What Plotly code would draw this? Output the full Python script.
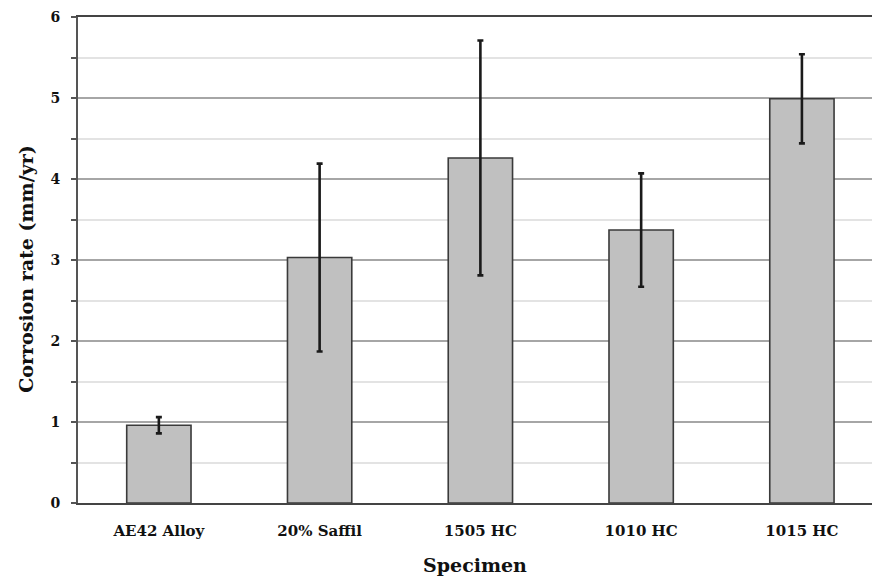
import plotly.graph_objects as go

categories = ["AE42 Alloy", "20% Saffil", "1505 HC", "1010 HC", "1015 HC"]
corrosion_rate = [0.96, 3.03, 4.26, 3.37, 4.99]
error = [0.10, 1.16, 1.45, 0.70, 0.55]
y_ticks = [0, 1, 2, 3, 4, 5, 6]

font_family = "DejaVu Serif"

fig = go.Figure()
fig.add_trace(go.Bar(
    x=categories,
    y=corrosion_rate,
    width=0.4,
    marker=dict(color="#c0c0c0", line=dict(color="#3a3a3a", width=1.6)),
    error_y=dict(type="data", array=error, visible=True,
                 color="#1a1a1a", thickness=2.6, width=3),
))

fig.update_layout(
    width=872, height=580,
    margin=dict(l=78, r=0, t=17, b=77, autoexpand=False),
    plot_bgcolor="white", paper_bgcolor="white",
    showlegend=False,
    font=dict(family=font_family, color="#111111"),
)
fig.update_xaxes(
    type="category",
    range=[-0.503, 4.436],
    showline=True, linecolor="#444444", linewidth=2, mirror=True,
    showgrid=False, ticks="",
    ticklabelstandoff=13,
    tickfont=dict(family=font_family, size=15, color="#111111", weight="bold"),
    title=dict(text="<b>Specimen</b>", font=dict(family=font_family, size=19), standoff=20),
)
fig.update_yaxes(
    range=[0, 6],
    tickvals=y_ticks,
    showline=True, linecolor="#555555", linewidth=2,
    showgrid=True, gridcolor="#a6a6a6", gridwidth=2,
    ticks="outside", ticklen=5, tickcolor="#555555", tickwidth=1.5,
    ticklabelstandoff=8,
    minor=dict(dtick=0.5, showgrid=True, gridcolor="#e3e3e3", gridwidth=2,
               ticks="outside", ticklen=5, tickcolor="#555555", tickwidth=1.5),
    tickfont=dict(family=font_family, size=14, color="#111111", weight="bold"),
    title=dict(text="<b>Corrosion rate (mm/yr)</b>&nbsp;&nbsp;&nbsp;",
               font=dict(family=font_family, size=19), standoff=12),
    zeroline=False,
)

fig.write_html(
    "out.html",
    config={"displayModeBar": False},
    post_script="document.body.style.margin='0px';document.body.style.overflow='hidden';",
)
